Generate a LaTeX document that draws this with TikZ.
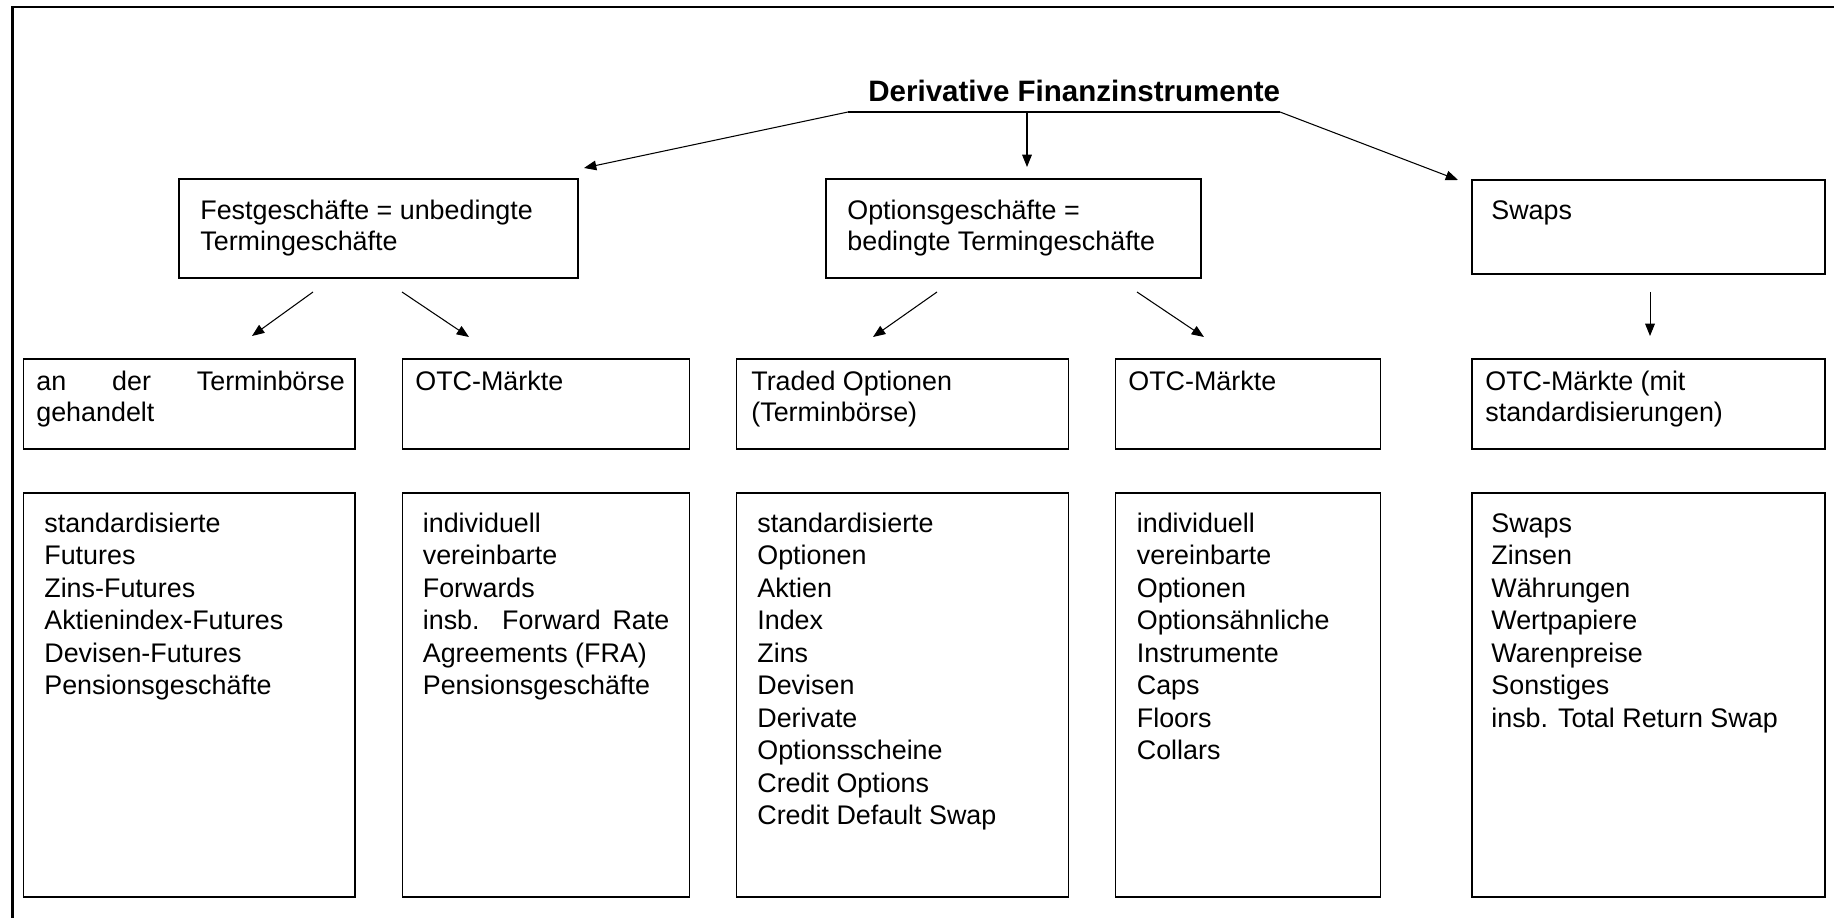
\documentclass[tikz,border=0pt]{standalone}
\usepackage{fontspec}
\setmainfont{Liberation Sans}
\usetikzlibrary{arrows.meta}
\tikzset{
 rand/.style={line width=1.2pt},
 kante/.style={line width=0.8pt},
 linie/.style={line width=0.6pt},
 pfeil/.style={line width=0.6pt,-{Triangle[length=7pt,width=5.5pt]}},
 titel/.style={anchor=base west,inner sep=0pt,font=\bfseries\fontsize{16.8pt}{20pt}\selectfont},
 txt/.style={anchor=north west,inner sep=0pt,align=left,font=\fontsize{15.3pt}{17.8pt}\selectfont},
 liste/.style={anchor=north west,inner sep=0pt,align=left,font=\fontsize{15.3pt}{18.5pt}\selectfont}
}

\begin{document}
\begin{tikzpicture}[x=0.02cm,y=-0.02cm]
\useasboundingbox (0,0) rectangle (1834,918);
\draw[rand] (12.5,930) -- (12.5,7) -- (1850,7);

% Titel
\node[titel] (titel) at (868,102) {Derivative Finanzinstrumente};
\coordinate (l0) at (848,112);
\coordinate (m0) at (1027,112);
\coordinate (r0) at (1280,112);
\coordinate (l1) at (584,168);
\coordinate (m1) at (1027,167);
\coordinate (r1) at (1458,180);
\draw[linie] (l0) -- (r0);
\draw[pfeil] (l0) -- (l1);
\draw[pfeil] (m0) -- (m1);
\draw[pfeil] (r0) -- (r1);

% erste Ebene
\draw[kante] (179,179) rectangle (578,278);
\draw[kante] (826,179) rectangle (1201,278);
\draw[kante] (1472,180) rectangle (1825,274);
\node[txt] (fest) at (200,197) {\strut Festgeschäfte = unbedingte\\Termingeschäfte};
\node[txt] (option) at (847,197) {\strut Optionsgeschäfte =\\bedingte Termingeschäfte};
\node[txt] (swap) at (1491,197) {\strut Swaps};

\coordinate (fa) at (313,292);
\coordinate (fb) at (252,336);
\coordinate (fc) at (402,292);
\coordinate (fd) at (469,337);
\coordinate (oa) at (937,292);
\coordinate (ob) at (873,337);
\coordinate (oc) at (1137,292);
\coordinate (od) at (1204,337);
\coordinate (sa) at (1650,292);
\coordinate (sb) at (1650,336);
\draw[pfeil] (fa) -- (fb);
\draw[pfeil] (fc) -- (fd);
\draw[pfeil] (oa) -- (ob);
\draw[pfeil] (oc) -- (od);
\draw[pfeil] (sa) -- (sb);

% zweite Ebene
\draw[kante] (23.5,359) rectangle (355,449);
\draw[kante] (402.5,359) rectangle (689.5,449);
\draw[kante] (736.5,359) rectangle (1068.5,449);
\draw[kante] (1115.5,359) rectangle (1380.5,449);
\draw[kante] (1472,359) rectangle (1825,449);
\node[txt] (boerse) at (36,368) {\strut\makebox[6.17cm][s]{an der Terminbörse}\\gehandelt};
\node[txt] (otcfest) at (415,368) {\strut OTC-Märkte};
\node[txt] (traded) at (751,368) {\strut Traded Optionen\\(Terminbörse)};
\node[txt] (otcoption) at (1128,368) {\strut OTC-Märkte};
\node[txt] (otcswap) at (1485,368) {\strut OTC-Märkte (mit\\standardisierungen)};

% dritte Ebene
\draw[kante] (23.5,493) rectangle (355,897);
\draw[kante] (402.5,493) rectangle (689.5,897);
\draw[kante] (736.5,493) rectangle (1068.5,897);
\draw[kante] (1115.5,493) rectangle (1380.5,897);
\draw[kante] (1472,493) rectangle (1825,897);
\node[liste] (futures) at (44,509) {\strut standardisierte\\Futures\\Zins-Futures\\Aktienindex-Futures\\Devisen-Futures\\Pensionsgeschäfte};
\node[liste] (forwards) at (422.5,509) {\strut individuell\\vereinbarte\\Forwards\\\makebox[4.93cm][s]{insb. Forward Rate}\\Agreements (FRA)\\Pensionsgeschäfte};
\node[liste] (optionen) at (757,509) {\strut standardisierte\\Optionen\\Aktien\\Index\\Zins\\Devisen\\Derivate\\Optionsscheine\\Credit Options\\Credit Default Swap};
\node[liste] (otcliste) at (1136.5,509) {\strut individuell\\vereinbarte\\Optionen\\Optionsähnliche\\Instrumente\\Caps\\Floors\\Collars};
\node[liste] (swapliste) at (1491,509) {\strut Swaps\\Zinsen\\Währungen\\Wertpapiere\\Warenpreise\\Sonstiges\\insb. Total Return Swap};

\end{tikzpicture}
\end{document}
